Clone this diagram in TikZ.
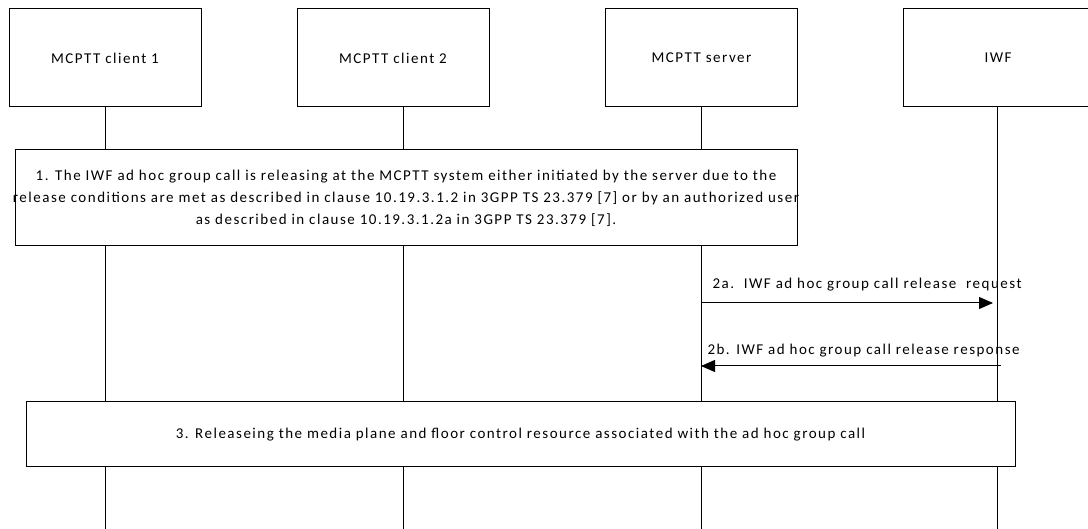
\documentclass[tikz,border=0pt]{standalone}
\usepackage{fontspec}
\setmainfont{Carlito}[LetterSpace=10]
\usetikzlibrary{arrows.meta}
\begin{document}
\begin{tikzpicture}[x=1pt,y=-1pt,
  line width=1pt,
  every node/.style={font=\fontsize{15}{22}\selectfont},
  actor/.style={draw,fill=white,minimum width=192pt,minimum height=98pt,inner sep=0pt},
  note/.style={draw,fill=white,inner sep=0pt,align=center},
  notetext/.style={inner sep=0pt,align=center},
  msg/.style={-{Triangle[length=14pt,width=12pt]}},
  lbl/.style={inner sep=0pt,anchor=base west}]
\useasboundingbox (0,0) rectangle (1088,529);
\node[actor] (a1) at (105,58) {MCPTT client 1};
\node[actor] (a2) at (393,58) {MCPTT client 2};
\node[actor] (a3) at (701.5,58) {MCPTT server};
\node[actor,minimum width=190pt] (a4) at (998,58) {IWF};
\coordinate (b1) at (105,529);
\coordinate (b2) at (403,529);
\coordinate (b3) at (701,529);
\coordinate (b4) at (997,529);
\draw (a1.south) -- (b1);
\draw (a2.south -| b2) -- (b2);
\draw (a3.south -| b3) -- (b3);
\draw (a4.south -| b4) -- (b4);
\node[note,minimum width=782pt,minimum height=96pt] (n1) at (406,198) {};
\node[notetext] (t1) at (n1.center) {1. The IWF ad hoc group call is releasing at the MCPTT system either initiated by the server due to the\\release conditions are met as described in clause 10.19.3.1.2 in 3GPP TS 23.379 [7] or by an authorized user\\as described in clause 10.19.3.1.2a in 3GPP TS 23.379 [7].};
\node[note,minimum width=989pt,minimum height=65pt] (n3) at (520.5,434.5) {3. Releaseing the media plane and floor control resource associated with the ad hoc group call};
\coordinate (s2a) at (701,303);
\coordinate (e2a) at (993,303);
\coordinate (s2b) at (1001,366);
\coordinate (e2b) at (701,366);
\draw[msg] (s2a) -- (e2a);
\draw[msg] (s2b) -- (e2b);
\node[lbl] (l2a) at (712,289) {2a.\ \ IWF ad hoc group call release\ \ request};
\node[lbl] (l2b) at (707,355) {2b. IWF ad hoc group call release response};
\end{tikzpicture}
\end{document}
